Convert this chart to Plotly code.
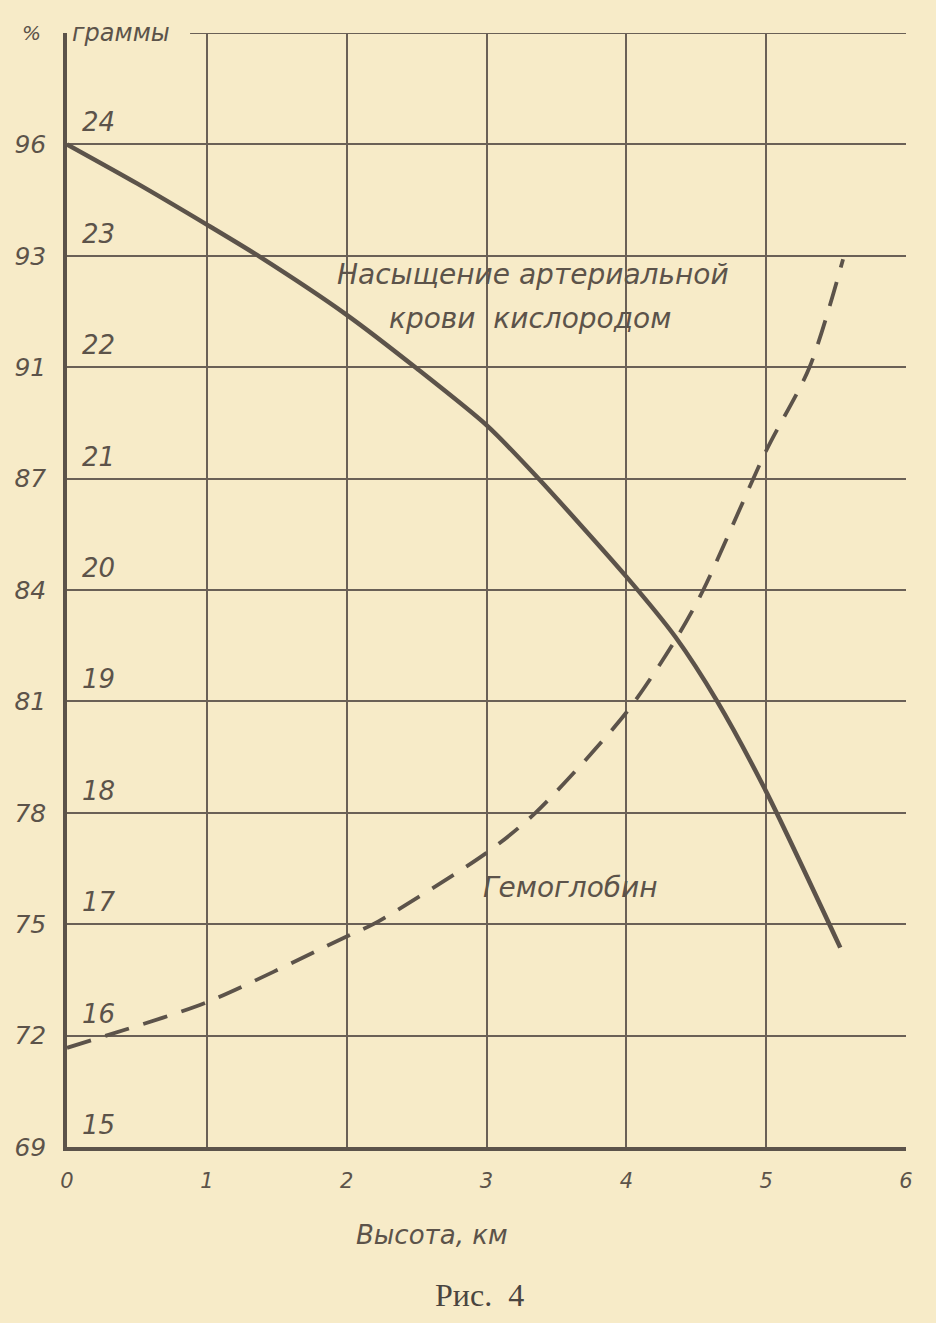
import plotly.graph_objects as go

# ---- data ----
altitude_ticks = [0, 1, 2, 3, 4, 5, 6]
altitude_labels = ["0", "1", "2", "3", "4", "5", "6"]

grams_ticks = [15, 16, 17, 18, 19, 20, 21, 22, 23, 24]
grams_labels = ["15", "16", "17", "18", "19", "20", "21", "22", "23", "24"]
percent_labels = ["69", "72", "75", "78", "81", "84", "87", "91", "93", "96"]

# Oxygen saturation of arterial blood (plotted on grams scale)
sat_km = [0, 0.5, 1.0, 1.38, 2.0, 2.5, 3.0, 3.35, 4.0, 4.35, 4.65, 5.0, 5.53]
sat_g = [24.0, 23.65, 23.28, 22.99, 22.47, 21.99, 21.48, 21.03, 20.12, 19.58, 19.0, 18.19, 16.79]

# Hemoglobin, grams
hb_km = [0, 0.28, 1.0, 2.0, 2.19, 3.0, 3.35, 4.0, 4.35, 4.55, 5.0, 5.31, 5.55]
hb_g = [15.89, 16.0, 16.30, 16.89, 17.0, 17.64, 18.0, 18.9, 19.55, 20.0, 21.25, 22.0, 22.97]

X_MIN, X_MAX = 0, 6
Y_MIN, Y_MAX = 15, 25

BG = "#f7ebc8"
INK = "#5c534a"
GRID = "#6a6056"
FONT = "DejaVu Sans"

fig = go.Figure()

fig.add_trace(go.Scatter(x=sat_km, y=sat_g, mode="lines", line=dict(color=INK, width=4.5, shape="spline", smoothing=0.7),
                         hoverinfo="skip", showlegend=False))
fig.add_trace(go.Scatter(x=hb_km, y=hb_g, mode="lines", line=dict(color=INK, width=3.8, shape="spline", smoothing=0.8,
                                                                   dash="25px,15px"),
                         hoverinfo="skip", showlegend=False))

# top border (partial, leaves room for the "граммы" label)
fig.add_shape(type="line", xref="x", yref="y", x0=0.88, x1=X_MAX, y0=Y_MAX, y1=Y_MAX,
              line=dict(color=GRID, width=2.2), layer="below")

# grams labels inside the plot, just above each gridline
for g, lab in zip(grams_ticks, grams_labels):
    fig.add_annotation(x=0, y=g, xref="x", yref="y", text=lab, showarrow=False,
                       xanchor="left", yanchor="bottom", xshift=13, yshift=5,
                       font=dict(family=FONT, size=26, color=INK, style="italic"))

fig.add_annotation(x=0, y=Y_MAX, xref="x", yref="y", text="граммы", showarrow=False,
                   xanchor="left", yanchor="middle", xshift=3, yshift=0,
                   font=dict(family=FONT, size=24, color=INK, style="italic"))
fig.add_annotation(x=0, y=Y_MAX, xref="x", yref="y", text="%", showarrow=False,
                   xanchor="right", yanchor="middle", xshift=-24, yshift=0,
                   font=dict(family=FONT, size=20, color=INK, style="italic"))

fig.add_annotation(x=3.33, y=22.83, xref="x", yref="y", text="Насыщение артериальной", showarrow=False,
                   xanchor="center", yanchor="middle",
                   font=dict(family=FONT, size=28, color=INK, style="italic"))
fig.add_annotation(x=3.31, y=22.44, xref="x", yref="y", text="крови  кислородом", showarrow=False,
                   xanchor="center", yanchor="middle",
                   font=dict(family=FONT, size=28, color=INK, style="italic"))
fig.add_annotation(x=3.6, y=17.33, xref="x", yref="y", text="Гемоглобин", showarrow=False,
                   xanchor="center", yanchor="middle",
                   font=dict(family=FONT, size=28, color=INK, style="italic"))

fig.add_annotation(x=0.435, y=-0.079, xref="paper", yref="paper", text="Высота, км", showarrow=False,
                   xanchor="center", yanchor="middle",
                   font=dict(family=FONT, size=26, color=INK, style="italic"))
fig.add_annotation(x=0.492, y=-0.133, xref="paper", yref="paper", text="Рис.  4", showarrow=False,
                   xanchor="center", yanchor="middle",
                   font=dict(family="Liberation Serif", size=32, color="#4a4540"))

fig.update_layout(
    width=936, height=1323,
    margin=dict(l=67, r=30, t=33, b=176),
    paper_bgcolor=BG, plot_bgcolor=BG,
    showlegend=False,
    xaxis=dict(range=[X_MIN, X_MAX], tickvals=altitude_ticks, ticktext=altitude_labels,
               showgrid=True, gridcolor=GRID, gridwidth=2.2, zeroline=False,
               showline=True, linecolor=INK, linewidth=3.5, ticks="",
               ticklabelstandoff=12,
               tickfont=dict(family=FONT, size=21, color=INK, style="italic")),
    yaxis=dict(range=[Y_MIN, Y_MAX], tickvals=grams_ticks, ticktext=percent_labels,
               showgrid=True, gridcolor=GRID, gridwidth=2.2, zeroline=False,
               showline=True, linecolor=INK, linewidth=3.5, ticks="",
               ticklabelstandoff=12,
               tickfont=dict(family=FONT, size=25, color=INK, style="italic")),
)

fig.write_html("out.html", config={"displayModeBar": False},
               post_script="document.body.style.margin='0';document.body.style.background='%s';" % BG)
